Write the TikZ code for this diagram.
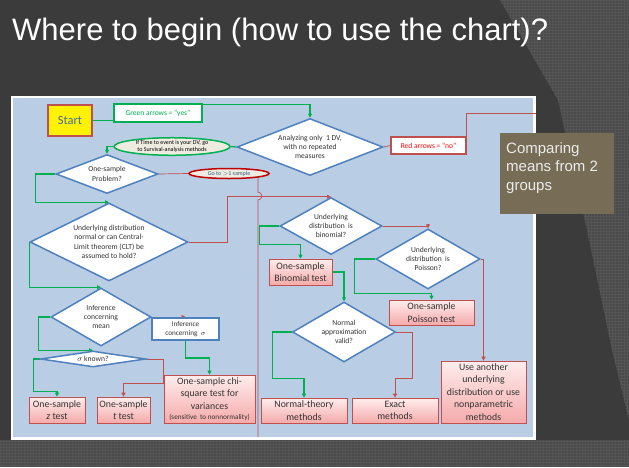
\documentclass[tikz,border=0pt]{standalone}
\usepackage{fontspec}
\setmainfont{Carlito}
\newfontfamily\slidefont{Liberation Sans}
\usetikzlibrary{shapes.geometric, arrows.meta, shadows}
\definecolor{slidebg}{HTML}{3B3B3B}
\definecolor{slidetex}{HTML}{4A4A4A}
\definecolor{slidegrid}{HTML}{555555}
\definecolor{panelc}{HTML}{B9CDE5}
\definecolor{decc}{HTML}{4F81BD}
\definecolor{yesc}{HTML}{00B050}
\definecolor{noc}{HTML}{C0504D}
\definecolor{nodark}{HTML}{C00000}
\definecolor{pinktop}{HTML}{FFEDED}
\definecolor{pinkbot}{HTML}{F5AAAA}
\definecolor{notec}{HTML}{776D56}
\definecolor{ovalc}{HTML}{EEECE1}
\pgfdeclarelayer{background}
\pgfdeclarelayer{wires}
\pgfsetlayers{background,wires,main}

\begin{document}
\begin{tikzpicture}[x=1pt, y=-1pt, >={Triangle[length=4pt, width=4pt]},
  dec/.style={diamond, draw=decc, line width=1.5pt, fill=white, inner sep=0pt,
              align=center, text=black!80, font=\fontsize{7.6}{9.3}\selectfont},
  res/.style={rectangle, draw=noc, line width=0.7pt, top color=pinktop, bottom color=pinkbot,
              inner sep=0pt, align=center, text=black!80, font=\fontsize{9.8}{12.5}\selectfont,
              drop shadow={shadow xshift=1pt, shadow yshift=-1pt, opacity=0.3}},
  keybox/.style={rectangle, fill=white, line width=1.5pt, inner sep=0pt, font=\fontsize{7.5}{8}\selectfont},
  oval/.style={ellipse, fill=ovalc, line width=1.5pt, inner sep=0pt, align=center},
  yesline/.style={yesc, line width=1.3pt},
  yesarrow/.style={yesline, ->},
  noline/.style={noc, line width=0.7pt},
  noarrow/.style={noline, ->},
]
\useasboundingbox (0,0) rectangle (629,467);

%% slide background and chart panel
\begin{pgfonlayer}{background}
  \fill[slidebg] (0,0) rectangle (629,467);
  \begin{scope}
    \clip (500,0) -- (558,100) -- (587,230) -- (612,350) -- (629,420) -- (629,0) -- cycle;
    \fill[slidetex] (480,0) rectangle (629,440);
    \draw[slidegrid, line width=0.3pt, step=3pt] (480,0) grid (629,440);
  \end{scope}
  \begin{scope}
    \clip (0,440) rectangle (629,467);
    \fill[slidetex] (0,440) rectangle (629,467);
    \draw[slidegrid, line width=0.3pt, step=3pt] (0,440) grid (629,467);
  \end{scope}
  \fill[white] (11,96) rectangle (536,440);
  \fill[panelc] (13,98) rectangle (533,437);
\end{pgfonlayer}

\node[anchor=base west, inner sep=0pt, text=white, font=\slidefont\fontsize{31}{36}\selectfont] (title) at (12,40)
  {Where to begin (how to use the chart)?};

%% start and legend
\node[rectangle, draw=noc, line width=1.5pt, fill=yellow, minimum width=44pt, minimum height=31pt,
      text=decc!85!black, font=\fontsize{12.5}{14}\selectfont] (start) at (70,120.5) {Start};
\node[keybox, draw=yesc, text=yesc, minimum width=88pt, minimum height=18pt] (yeskey) at (158,113) {Green arrows = ``yes''};
\node[keybox, draw=noc, text=red, minimum width=75pt, minimum height=17pt] (nokey) at (428.5,145.5) {Red arrows = ``no''};

%% decisions
\node[dec, shape aspect=2.5, minimum width=146pt, minimum height=57pt] (dv) at (310,147) {Analyzing only \ 1 DV,\\with no repeated\\measures};
\node[dec, shape aspect=2.6, minimum width=102pt, minimum height=39pt] (onesam) at (107,174) {One-sample\\Problem?};
\node[dec, shape aspect=2, minimum width=158pt, minimum height=78pt] (clt) at (109,242)
  {Underlying distribution\\normal or can Central-\\Limit theorem (CLT) be\\assumed to hold?};
\node[dec, shape aspect=1.7, minimum width=100pt, minimum height=58pt] (mean) at (101,317) {Inference\\concerning\\mean};
\node[dec, shape aspect=6.5, minimum width=105pt, minimum height=16pt] (sigk) at (93,359) {$\sigma$ known?};
\node[dec, shape aspect=1.8, minimum width=102pt, minimum height=57pt] (binom) at (331,226) {Underlying\\distribution \ is\\binomial?};
\node[dec, shape aspect=1.8, minimum width=104pt, minimum height=60pt] (poisson) at (428,259) {Underlying\\distribution \ is\\Poisson?};
\node[dec, shape aspect=1.8, minimum width=103pt, minimum height=60pt] (normal) at (344,332) {Normal\\approximation\\valid?};
\node[rectangle, draw=decc, line width=1.5pt, fill=white, minimum width=67pt, minimum height=22pt,
      align=center, text=black!80, font=\fontsize{7.2}{9.5}\selectfont] (sigbox) at (185.5,329) {Inference\\concerning \ $\sigma$};

%% side notes on the lines
\node[oval, draw=yesc, minimum width=116pt, minimum height=17pt, font=\fontsize{6}{7.3}\selectfont] (surv) at (172,146.5)
  {If Time to event is your DV, go\\to Survival-analysis methods};
\node[oval, draw=nodark, minimum width=80pt, minimum height=10pt, text=decc!70!black, font=\fontsize{6}{6}\selectfont] (gotwo) at (229,173.5)
  {Go to $>$1 sample};

%% results
\node[res, minimum width=56pt, minimum height=26pt] (ztest) at (57,410) {One-sample\\\textit{z} test};
\node[res, minimum width=53pt, minimum height=26pt] (ttest) at (123.5,410) {One-sample\\\textit{t} test};
\node[res, minimum width=91pt, minimum height=48pt] (chisq) at (209.5,399)
  {One-sample chi-\\square test for\\variances\\[-2pt]{\fontsize{7.2}{7}\selectfont(sensitive \ to nonnormality)}};
\node[res, minimum width=63pt, minimum height=26pt] (binomt) at (300.5,272) {One-sample\\Binomial test};
\node[res, minimum width=85pt, minimum height=25pt] (poist) at (431.5,312.5) {One-sample\\Poisson test};
\node[res, minimum width=86pt, minimum height=25pt] (normt) at (304,410.5) {Normal-theory\\methods};
\node[res, minimum width=86pt, minimum height=25pt] (exact) at (395,410.5) {Exact\\methods};
\node[res, minimum width=85pt, minimum height=62pt] (other) at (483.5,392)
  {Use another\\underlying\\distribution or use\\nonparametric\\methods};

%% box beside the chart
\node[fill=notec, minimum width=114pt, minimum height=81pt, anchor=north west] (note) at (500,133) {};
\node[anchor=north west, inner sep=0pt, align=left, text=white!92!black, font=\slidefont\fontsize{15}{18.5}\selectfont]
  (notetext) at ([xshift=6pt, yshift=-9pt]note.north west) {Comparing\\means from 2\\groups};

\coordinate (drop) at (258,437);
\coordinate (offchart) at (536,113);

%% connectors
\begin{pgfonlayer}{wires}
  \draw[yesline] (start.east) -- (start.east -| yeskey.west);
  \draw[yesarrow] ([yshift=-1pt]yeskey.north east) -| (dv.north);
  \draw[yesline] (dv.west) -- (surv.east);
  \draw[yesarrow] (surv.west) -| (onesam.north);
  \draw[yesarrow] (onesam.west) -- ++(-20,0) |- (clt.north);
  \draw[yesarrow] (clt.west) |- (mean.north);
  \draw[yesarrow] (mean.west) -- ++(-12,0) |- (sigk.north);
  \draw[yesarrow] (sigk.west) -- ++(-6,0) |- ([yshift=5pt]ztest.north) -- (ztest.north);
  \draw[yesarrow] (sigbox.south) -- ++(0,17) -| (chisq.north);
  \draw[yesarrow] (binom.west) -- ++(-20,0) |- ([yshift=14pt]binomt.north) -- (binomt.north);
  \draw[yesarrow] (poisson.west) -- ++(-21,0) |- ([yshift=6pt]poist.north) -- (poist.north);
  \draw[yesarrow] (binomt.east) -| (normal.north);
  \draw[yesarrow] (normal.west) -- ++(-19,0) |- ([yshift=19pt]normt.north) -- (normt.north);

  \draw[noline] (dv.east) -- (nokey.west);
  \draw[noline] (nokey.north east) |- (offchart);
  \draw[noline] (onesam.east) -- (gotwo.west);
  \draw[noline] (gotwo.center -| drop) -- (258,192) .. controls (263,192) and (263,200) .. (258,200) -- (drop);
  \draw[noarrow] (clt.east) -- ++(39,0) |- (binom.north);
  \draw[noarrow] (mean.east) -- (mean.east -| sigbox.north);
  \draw[noarrow] (sigk.east) -| ([yshift=16pt]chisq.west) -| (ttest.north);
  \draw[noarrow] (binom.east) -| (poisson.north);
  \draw[noarrow] (poisson.east) -| (other.north);
  \draw[noarrow] (normal.east) -- ++(16,0) |- ([yshift=19pt]exact.north) -- (exact.north);
\end{pgfonlayer}

\end{tikzpicture}
\end{document}
